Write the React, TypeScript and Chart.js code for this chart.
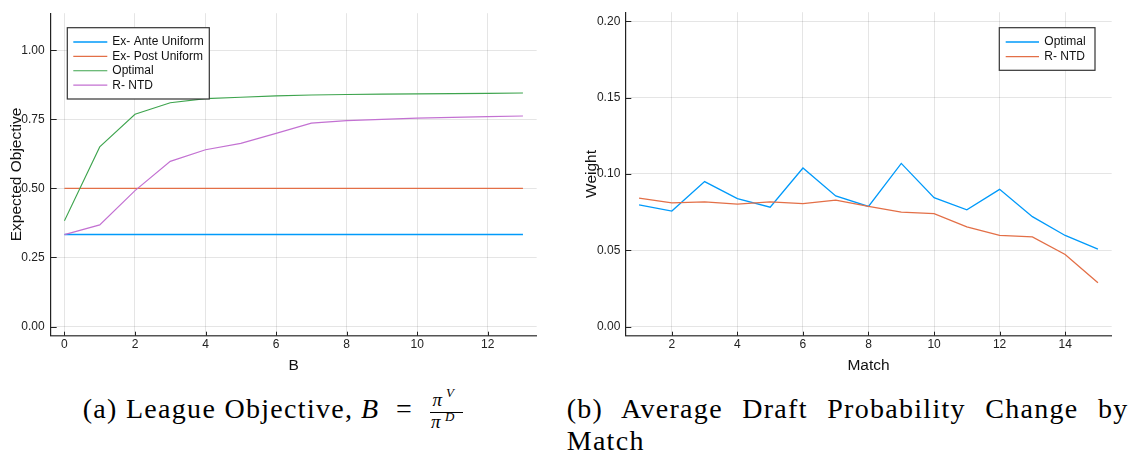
import React, { useEffect, useRef } from 'react';
import { Chart, registerables } from 'chart.js';

Chart.register(...registerables);

// ---------- data ----------
const bValues = [0, 1, 2, 3, 4, 5, 6, 7, 8, 9, 10, 11, 12, 13];
const exAnteUniform = [0.333, 0.333, 0.333, 0.333, 0.333, 0.333, 0.333, 0.333, 0.333, 0.333, 0.333, 0.333, 0.333, 0.333];
const exPostUniform = [0.5, 0.5, 0.5, 0.5, 0.5, 0.5, 0.5, 0.5, 0.5, 0.5, 0.5, 0.5, 0.5, 0.5];
const optimalObjective = [0.383, 0.65, 0.768, 0.81, 0.825, 0.83, 0.835, 0.838, 0.84, 0.841, 0.842, 0.843, 0.844, 0.845];
const rntdObjective = [0.333, 0.368, 0.492, 0.598, 0.64, 0.663, 0.699, 0.736, 0.745, 0.75, 0.754, 0.757, 0.76, 0.762];

const matchValues = [1, 2, 3, 4, 5, 6, 7, 8, 9, 10, 11, 12, 13, 14, 15];
const optimalWeight = [0.0798, 0.0757, 0.095, 0.0839, 0.0782, 0.1039, 0.0856, 0.0787, 0.1069, 0.0845, 0.0765, 0.0899, 0.072, 0.0597, 0.0507];
const rntdWeight = [0.0841, 0.0811, 0.0817, 0.0802, 0.0817, 0.0806, 0.0828, 0.0787, 0.075, 0.074, 0.0653, 0.0597, 0.0588, 0.0472, 0.0287];

const xTicksA = [0, 2, 4, 6, 8, 10, 12];
const yTicksA = [0, 0.25, 0.5, 0.75, 1.0];
const xTicksB = [2, 4, 6, 8, 10, 12, 14];
const yTicksB = [0, 0.05, 0.1, 0.15, 0.2];

const BLUE = '#009AFA';
const ORANGE = '#E36F47';
const GREEN = '#3EA44E';
const PURPLE = '#C371D2';

const SANS = '"Liberation Sans", Arial, Helvetica, sans-serif';
const SERIF = '"Liberation Serif", "Times New Roman", serif';

// ---------- plugins ----------
const inwardTicks = {
  id: 'inwardTicks',
  afterDraw(chart: any, _args: any, opts: any) {
    const { ctx, chartArea, scales } = chart;
    ctx.save();
    ctx.strokeStyle = opts.color || '#222';
    ctx.lineWidth = 1;
    scales.y.ticks.forEach((t: any) => {
      const p = Math.round(scales.y.getPixelForValue(t.value)) + 0.5;
      ctx.beginPath();
      ctx.moveTo(chartArea.left, p);
      ctx.lineTo(chartArea.left + opts.yLen, p);
      ctx.stroke();
    });
    scales.x.ticks.forEach((t: any) => {
      const p = Math.round(scales.x.getPixelForValue(t.value)) + 0.5;
      ctx.beginPath();
      ctx.moveTo(p, chartArea.bottom);
      ctx.lineTo(p, chartArea.bottom - opts.xLen);
      ctx.stroke();
    });
    ctx.restore();
  },
};

const boxLegend = {
  id: 'boxLegend',
  afterDraw(chart: any, _args: any, opts: any) {
    const { ctx } = chart;
    ctx.save();
    ctx.fillStyle = '#ffffff';
    ctx.fillRect(opts.left, opts.top, opts.width, opts.height);
    ctx.strokeStyle = '#333333';
    ctx.lineWidth = 1.2;
    ctx.strokeRect(opts.left, opts.top, opts.width, opts.height);
    chart.data.datasets.forEach((ds: any, i: number) => {
      const y = opts.rowY0 + i * opts.rowGap;
      ctx.strokeStyle = ds.borderColor;
      ctx.lineWidth = ds.borderWidth;
      ctx.beginPath();
      ctx.moveTo(opts.lineX0, y);
      ctx.lineTo(opts.lineX1, y);
      ctx.stroke();
      ctx.fillStyle = '#111111';
      ctx.font = `12px ${SANS}`;
      ctx.textBaseline = 'middle';
      ctx.textAlign = 'left';
      ctx.fillText(ds.label, opts.textX, y);
    });
    ctx.restore();
  },
};

function pts(xs: number[], ys: number[]) {
  return xs.map((x, i) => ({ x, y: ys[i] }));
}

function makeScales(p: any) {
  return {
    x: {
      type: 'linear',
      min: p.xMin,
      max: p.xMax,
      afterBuildTicks: (s: any) => {
        s.ticks = p.xTicks.map((v: number) => ({ value: v }));
      },
      afterFit: (s: any) => {
        s.height = p.xHeight;
      },
      ticks: {
        font: { family: SANS, size: 12 },
        color: '#222',
        padding: 2,
        maxRotation: 0,
        autoSkip: false,
        callback: (v: any) => String(v),
      },
      grid: { color: 'rgba(0,0,0,0.1)', lineWidth: 1, drawTicks: false },
      border: { display: true, color: '#555', width: 1.5 },
      title: {
        display: true,
        text: p.xTitle,
        color: '#111',
        font: { family: SANS, size: 15.5, lineHeight: 1.2 },
        padding: { top: 0, bottom: 5 },
      },
    },
    y: {
      type: 'linear',
      min: p.yMin,
      max: p.yMax,
      afterBuildTicks: (s: any) => {
        s.ticks = p.yTicks.map((v: number) => ({ value: v }));
      },
      afterFit: (s: any) => {
        s.width = p.yWidth;
      },
      ticks: {
        font: { family: SANS, size: 12 },
        color: '#222',
        padding: p.yPad,
        autoSkip: false,
        callback: (v: any) => Number(v).toFixed(2),
      },
      grid: { color: 'rgba(0,0,0,0.1)', lineWidth: 1, drawTicks: false },
      border: { display: true, color: '#222', width: 1.2 },
      title: {
        display: true,
        text: p.yTitle,
        color: '#111',
        font: { family: SANS, size: 15.5, lineHeight: 1.2 },
        padding: { top: p.yTitlePad, bottom: 0 },
      },
    },
  };
}

function ChartCanvas({ config, left, width, height }: any) {
  const ref = useRef<HTMLCanvasElement | null>(null);
  useEffect(() => {
    if (!ref.current) return;
    const chart = new Chart(ref.current, config);
    return () => chart.destroy();
  }, []);
  return (
    <canvas
      ref={ref}
      width={width}
      height={height}
      style={{ position: 'absolute', left, top: 0, width, height }}
    />
  );
}

const configA: any = {
  type: 'line',
  data: {
    datasets: [
      { label: 'Ex- Ante Uniform', data: pts(bValues, exAnteUniform), borderColor: BLUE, borderWidth: 1.6, pointRadius: 0, tension: 0, order: 4 },
      { label: 'Ex- Post Uniform', data: pts(bValues, exPostUniform), borderColor: ORANGE, borderWidth: 1.3, pointRadius: 0, tension: 0, order: 3 },
      { label: 'Optimal', data: pts(bValues, optimalObjective), borderColor: GREEN, borderWidth: 1.1, pointRadius: 0, tension: 0, order: 2 },
      { label: 'R- NTD', data: pts(bValues, rntdObjective), borderColor: PURPLE, borderWidth: 1.2, pointRadius: 0, tension: 0, order: 1 },
    ],
  },
  options: {
    responsive: false,
    animation: false,
    layout: { padding: { top: 8, right: 28.3, left: 0, bottom: 0 } },
    plugins: {
      legend: { display: false },
      tooltip: { enabled: false },
      inwardTicks: { yLen: 6, xLen: 4, color: '#222' },
      boxLegend: { left: 67.3, top: 27.7, width: 142, height: 71.3, lineX0: 73.3, lineX1: 107.3, textX: 112.3, rowY0: 42, rowGap: 14.4 },
    },
    scales: makeScales({
      xMin: -0.39, xMax: 13.39, xTicks: xTicksA, xHeight: 44.3, xTitle: 'B',
      yMin: -0.033, yMax: 1.134, yTicks: yTicksA, yWidth: 50.7, yPad: 6, yTitle: 'Expected Objective', yTitlePad: 7,
    }),
  },
  plugins: [inwardTicks, boxLegend],
};

const configB: any = {
  type: 'line',
  data: {
    datasets: [
      { label: 'Optimal', data: pts(matchValues, optimalWeight), borderColor: BLUE, borderWidth: 1.3, pointRadius: 0, tension: 0, order: 2 },
      { label: 'R- NTD', data: pts(matchValues, rntdWeight), borderColor: ORANGE, borderWidth: 1.3, pointRadius: 0, tension: 0, order: 1 },
    ],
  },
  options: {
    responsive: false,
    animation: false,
    layout: { padding: { top: 8, right: 18.3, left: 0, bottom: 0 } },
    plugins: {
      legend: { display: false },
      tooltip: { enabled: false },
      inwardTicks: { yLen: 6, xLen: 4, color: '#222' },
      boxLegend: { left: 424.3, top: 27.7, width: 95.7, height: 42.6, lineX0: 430.7, lineX1: 464, textX: 469.3, rowY0: 42, rowGap: 14.7 },
    },
    scales: makeScales({
      xMin: 0.58, xMax: 15.42, xTicks: xTicksB, xHeight: 44.3, xTitle: 'Match',
      yMin: -0.006, yMax: 0.206, yTicks: yTicksB, yWidth: 50.3, yPad: 5, yTitle: 'Weight', yTitlePad: 7.4,
    }),
  },
  plugins: [inwardTicks, boxLegend],
};

const capBase: React.CSSProperties = {
  position: 'absolute',
  fontFamily: SERIF,
  color: '#000',
  whiteSpace: 'nowrap',
  margin: 0,
};

export default function App() {
  return (
    <div style={{ position: 'absolute', left: 0, top: 0, width: 1130, height: 453, background: '#fff', overflow: 'hidden' }}>
      <ChartCanvas config={configA} left={0} width={565} height={380} />
      <ChartCanvas config={configB} left={575} width={555} height={380} />

      {/* caption (a) */}
      <div style={{ ...capBase, left: 82.7, top: 394.55, fontSize: 28, lineHeight: '28px', letterSpacing: '1.3px' }}>
        (a) League Objective,
      </div>
      <div style={{ ...capBase, left: 361, top: 394.55, fontSize: 28, lineHeight: '28px', fontStyle: 'italic' }}>B</div>
      <div style={{ ...capBase, left: 396, top: 394.55, fontSize: 28, lineHeight: '28px' }}>=</div>
      <div style={{ ...capBase, left: 432.5, top: 389.8, fontSize: 19, lineHeight: '19px', fontStyle: 'italic' }}>π</div>
      <div style={{ ...capBase, left: 446, top: 385.8, fontSize: 13, lineHeight: '13px', fontStyle: 'italic' }}>V</div>
      <div style={{ position: 'absolute', left: 430, top: 411.8, width: 33, height: 1, background: '#000' }} />
      <div style={{ ...capBase, left: 431, top: 412.4, fontSize: 19, lineHeight: '19px', fontStyle: 'italic' }}>π</div>
      <div style={{ ...capBase, left: 445, top: 409.6, fontSize: 13, lineHeight: '13px', fontStyle: 'italic' }}>D</div>

      {/* caption (b) */}
      <div
        style={{
          position: 'absolute',
          left: 566.7,
          top: 392.55,
          width: 561.8,
          fontFamily: SERIF,
          fontSize: 28,
          lineHeight: '32px',
          letterSpacing: '1.3px',
          textAlign: 'justify',
          color: '#000',
          margin: 0,
        }}
      >
        (b) Average Draft Probability Change by Match
      </div>
    </div>
  );
}
